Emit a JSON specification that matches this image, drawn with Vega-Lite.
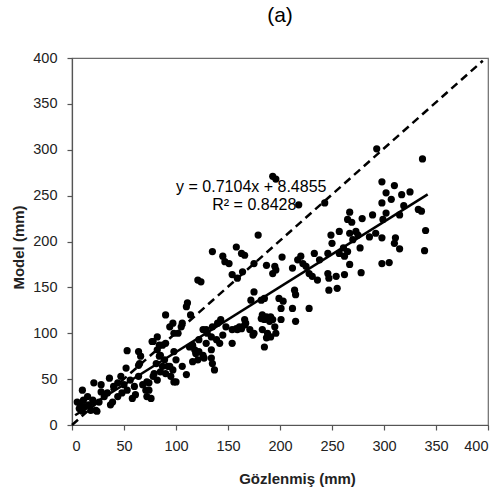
{
  "$schema": "https://vega.github.io/schema/vega-lite/v6.json",
  "width": 416,
  "height": 367,
  "autosize": "none",
  "padding": {"left": 72, "top": 58, "right": 14, "bottom": 74},
  "background": "white",
  "title": {"text": "(a)", "fontSize": 21, "font": "Liberation Sans", "fontWeight": "normal", "anchor": "middle", "offset": 24, "color": "black"},
  "config": {
    "view": {"stroke": "#6b6b6b", "strokeWidth": 1.2},
    "axis": {
      "grid": false,
      "domainColor": "#555555",
      "domainWidth": 1.2,
      "tickColor": "#555555",
      "tickSize": 5,
      "tickWidth": 1.2,
      "labelFont": "Liberation Sans",
      "labelFontSize": 14.5,
      "labelColor": "#222222",
      "titleFont": "Liberation Sans",
      "titleFontSize": 15,
      "titleFontWeight": "bold",
      "titleColor": "#222222"
    }
  },
  "datasets": {
    "pts": [
      {"x":293,"y":301},{"x":337,"y":290},{"x":193,"y":271},{"x":196,"y":268},{"x":218,"y":240},{"x":243,"y":242},{"x":298,"y":265},{"x":310,"y":261},{"x":302,"y":253},{"x":307,"y":246},{"x":317,"y":251},{"x":325,"y":254},{"x":298,"y":242},{"x":319,"y":239},{"x":333,"y":235},{"x":336,"y":233},{"x":267,"y":232},{"x":265,"y":224},{"x":269,"y":221},{"x":279,"y":225},{"x":289,"y":229},{"x":299,"y":224},{"x":302,"y":231},{"x":315,"y":229},{"x":257,"y":211},{"x":267,"y":209},{"x":273,"y":211},{"x":270,"y":202},{"x":286,"y":205},{"x":292,"y":209},{"x":298,"y":204},{"x":311,"y":204},{"x":310,"y":198},{"x":340,"y":212},{"x":277,"y":193},{"x":315,"y":192},{"x":339,"y":190},{"x":257,"y":187},{"x":262,"y":184},{"x":267,"y":175},{"x":298,"y":176},{"x":305,"y":177},{"x":278,"y":166},{"x":262,"y":164},{"x":254,"y":162},{"x":250,"y":198},{"x":249,"y":207},{"x":275,"y":207},{"x":261,"y":193},
      {"x":179,"y":207},{"x":158,"y":194},{"x":163,"y":187},{"x":166,"y":185},{"x":151,"y":176},{"x":154,"y":164},{"x":159,"y":160},{"x":164,"y":167},{"x":175,"y":176},{"x":187,"y":174},{"x":195,"y":173},{"x":196,"y":169},{"x":193,"y":165},{"x":202,"y":183},{"x":212,"y":171},{"x":217,"y":180},{"x":220,"y":184},{"x":222,"y":176},{"x":225,"y":173},{"x":233,"y":187},{"x":228,"y":165},{"x":231,"y":162},{"x":236,"y":158},{"x":238,"y":180},{"x":246,"y":187},{"x":265,"y":189},{"x":246,"y":165},{"x":247,"y":160},{"x":247,"y":147},{"x":255,"y":149},{"x":175,"y":145},{"x":172,"y":136},{"x":182,"y":136},{"x":185,"y":138},{"x":199,"y":138},{"x":203,"y":135},{"x":201,"y":127},{"x":214,"y":147},{"x":215,"y":142},{"x":212,"y":127},{"x":228,"y":127},{"x":183,"y":120},{"x":187,"y":118},{"x":191,"y":118},{"x":190,"y":113},{"x":185,"y":115},{"x":201,"y":115},{"x":215,"y":113},{"x":166,"y":115},{"x":167,"y":111},{"x":161,"y":107},{"x":158,"y":105},{"x":154,"y":104},{"x":171,"y":104},{"x":174,"y":98},{"x":183,"y":104},{"x":188,"y":100},{"x":191,"y":96},{"x":187,"y":95},{"x":154,"y":89},{"x":185,"y":85},{"x":135,"y":189},{"x":145,"y":184},{"x":147,"y":178},{"x":121,"y":158},{"x":124,"y":156},{"x":143,"y":115},{"x":159,"y":104},{"x":163,"y":105},{"x":166,"y":109},{"x":175,"y":100},{"x":182,"y":116},{"x":193,"y":115},{"x":195,"y":107},{"x":196,"y":100},{"x":111,"y":133},{"x":110,"y":129},{"x":114,"y":120},{"x":90,"y":120},{"x":94,"y":107},{"x":97,"y":111},{"x":102,"y":100},{"x":105,"y":107},{"x":106,"y":111},{"x":126,"y":104},{"x":130,"y":100},{"x":134,"y":96},{"x":139,"y":93},{"x":142,"y":89},{"x":145,"y":98},{"x":148,"y":107},{"x":129,"y":104},{"x":135,"y":107},{"x":140,"y":111},{"x":134,"y":82},
      {"x":78,"y":91},{"x":82,"y":96},{"x":84,"y":87},{"x":87,"y":87},{"x":113,"y":85},{"x":116,"y":87},{"x":118,"y":82},{"x":119,"y":78},{"x":122,"y":80},{"x":126,"y":76},{"x":129,"y":89},{"x":122,"y":93},{"x":116,"y":69},{"x":121,"y":71},{"x":127,"y":73},{"x":134,"y":73},{"x":137,"y":60},{"x":135,"y":67},{"x":100,"y":47},{"x":110,"y":55},{"x":106,"y":64},{"x":100,"y":71},{"x":97,"y":60},{"x":94,"y":64},{"x":84,"y":75},{"x":81,"y":67},{"x":87,"y":64},{"x":90,"y":56},{"x":72,"y":31},{"x":78,"y":53},{"x":74,"y":46},{"x":71,"y":38},
      {"x":53,"y":81},{"x":64,"y":80},{"x":66,"y":75},{"x":65,"y":67},{"x":77,"y":91},{"x":82,"y":82},{"x":85,"y":76},{"x":89,"y":71},{"x":90,"y":89},{"x":98,"y":100},{"x":98,"y":80},{"x":52,"y":62},{"x":64,"y":65},{"x":36,"y":51},{"x":21,"y":46},{"x":28,"y":44},{"x":10,"y":38},{"x":47,"y":53},{"x":44,"y":46},{"x":50,"y":44},{"x":56,"y":49},{"x":60,"y":42},{"x":53,"y":38},{"x":64,"y":53},{"x":68,"y":44},{"x":72,"y":47},{"x":74,"y":38},{"x":79,"y":56},{"x":82,"y":49},{"x":85,"y":58},{"x":92,"y":64},{"x":95,"y":53},{"x":98,"y":47},{"x":76,"y":29},{"x":61,"y":33},{"x":58,"y":29},{"x":39,"y":25},{"x":37,"y":22},{"x":44,"y":31},{"x":48,"y":35},{"x":28,"y":36},{"x":31,"y":31},{"x":26,"y":25},{"x":15,"y":31},{"x":20,"y":27},{"x":16,"y":22},{"x":5,"y":25},{"x":7,"y":18},{"x":10,"y":15},{"x":23,"y":16},{"x":24,"y":15},{"x":12,"y":20},{"x":18,"y":16},{"x":34,"y":35},{"x":40,"y":42},{"x":8,"y":22},{"x":11,"y":27}
    ],
    "oneToOne": [{"x": 0, "y": 0}, {"x": 395, "y": 397}],
    "fit": [{"x": 3, "y": 10.6}, {"x": 342, "y": 251.4}],
    "labels": [
      {"x": 172.4, "y": 259.5, "t": "y = 0.7104x + 8.4855"},
      {"x": 175.3, "y": 239.9, "t": "R² = 0.8428"}
    ]
  },
  "encoding": {
    "x": {"field": "x", "type": "quantitative", "scale": {"domain": [0, 400], "nice": false},
          "axis": {"values": [0,50,100,150,200,250,300,350,400], "title": "Gözlenmiş (mm)", "labelPadding": 9, "titleX": 225, "titleY": 53, "titleAlign": "center", "titleBaseline": "middle"}},
    "y": {"field": "y", "type": "quantitative", "scale": {"domain": [0, 400], "nice": false},
          "axis": {"values": [0,50,100,150,200,250,300,350,400], "title": "Model (mm)", "labelPadding": 10, "titleX": -54, "titleY": 189, "titleAlign": "center", "titleBaseline": "middle", "titleAngle": -90}}
  },
  "layer": [
    {"data": {"name": "oneToOne"}, "mark": {"type": "line", "color": "black", "strokeWidth": 2.5, "strokeDash": [8, 5]}},
    {"data": {"name": "pts"}, "mark": {"type": "circle", "color": "black", "size": 52, "opacity": 1}},
    {"data": {"name": "fit"}, "mark": {"type": "line", "color": "black", "strokeWidth": 2.5}},
    {"data": {"name": "labels"}, "mark": {"type": "text", "font": "Liberation Sans", "fontSize": 16, "align": "center", "baseline": "middle", "color": "black"},
     "encoding": {"text": {"field": "t", "type": "nominal"}}}
  ]
}
